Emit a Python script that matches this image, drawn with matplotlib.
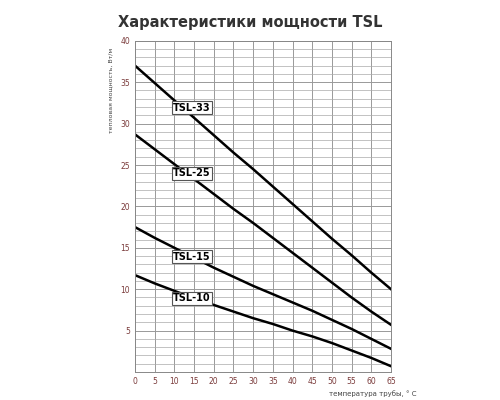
import numpy as np
import matplotlib.pyplot as plt

temps = [0, 5, 10, 15, 20, 25, 30, 35, 40, 45, 50, 55, 60, 65]
tsl33 = [37.0, 34.9, 32.8, 30.7, 28.6, 26.5, 24.5, 22.4, 20.3, 18.2, 16.1, 14.1, 12.0, 10.0]
tsl25 = [28.7, 26.9, 25.1, 23.3, 21.5, 19.7, 18.0, 16.2, 14.4, 12.6, 10.8, 9.0, 7.3, 5.7]
tsl15 = [17.5, 16.2, 15.0, 13.8, 12.6, 11.5, 10.4, 9.4, 8.4, 7.4, 6.3, 5.2, 4.0, 2.8]
tsl10 = [11.7, 10.7, 9.8, 8.9, 8.1, 7.3, 6.5, 5.8, 5.0, 4.3, 3.5, 2.6, 1.7, 0.7]
names = ['TSL-33', 'TSL-25', 'TSL-15', 'TSL-10']
label_pos = [(14.5, 31.9), (14.5, 24.0), (14.5, 13.9), (14.5, 8.9)]

tick_col = '#7a3b3b'
fig = plt.figure(figsize=(5, 4), dpi=100)
ax = fig.add_axes([0.27, 0.07, 0.512, 0.828])
for ys in [tsl33, tsl25, tsl15, tsl10]:
    ax.plot(temps, ys, color='black', lw=1.8)
for n, (x, y) in zip(names, label_pos):
    ax.text(x, y, n, fontsize=7, fontweight='bold', ha='center', va='center',
            bbox=dict(boxstyle='square,pad=0.15', fc='white', ec='#555555', lw=0.8))

ax.set_xlim(0, 65)
ax.set_ylim(0, 40)
ax.set_xticks(np.arange(0, 66, 5))
ax.set_yticks(np.arange(5, 41, 5))
ax.set_yticks(np.arange(0, 41, 1), minor=True)
ax.grid(True, which='major', color='#999999', lw=0.7)
ax.grid(True, which='minor', axis='y', color='#aaaaaa', lw=0.5)
ax.tick_params(length=0, labelsize=5.5, labelcolor=tick_col)
ax.tick_params(which='minor', length=0)
for s in ax.spines.values():
    s.set_color('#888888')
    s.set_linewidth(0.7)
ax.set_xlabel('температура трубы, ° C', fontsize=5, color='#444444')
ax.xaxis.set_label_coords(0.93, -0.055)
ax.set_ylabel('тепловая мощность, Вт/м', fontsize=4.5, color='#444444')
ax.yaxis.set_label_coords(-0.085, 0.85)
fig.text(0.236, 0.945, 'Характеристики мощности TSL', fontsize=10.5, fontweight='bold',
         color='#333333', va='center')
fig.savefig('out.png')
